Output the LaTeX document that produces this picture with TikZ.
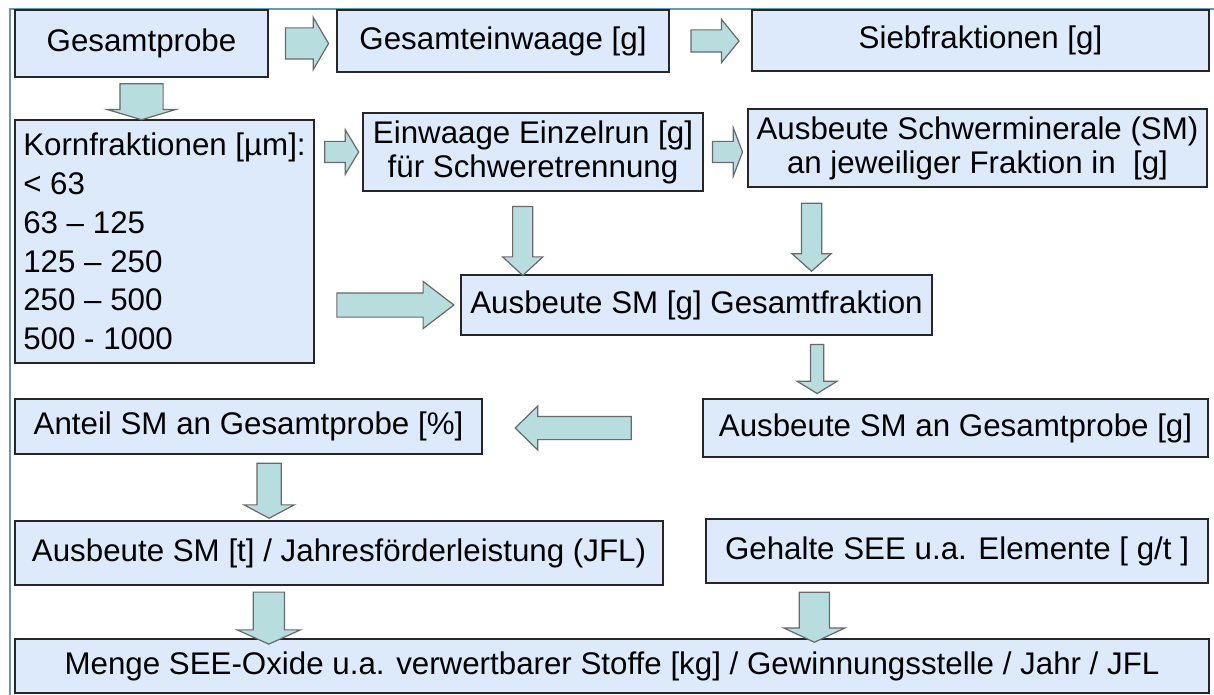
\documentclass[tikz,border=0pt]{standalone}
\usepackage{fontspec}
\setmainfont{Liberation Sans}
\usetikzlibrary{shapes.arrows, calc}

\definecolor{boxfill}{RGB}{220,234,251}
\definecolor{arrowfill}{RGB}{183,221,222}
\definecolor{arrowline}{RGB}{105,105,105}
\definecolor{frameline}{RGB}{110,150,172}

\begin{document}
\begin{tikzpicture}[
        x=1pt, y=-1pt,
        box/.style={rectangle, draw=black!85, line width=2pt, fill=boxfill, align=center,
            inner sep=0pt, font=\fontsize{31.3}{34}\selectfont},
        fatarrow/.style n args={4}{single arrow, draw=arrowline, fill=arrowfill, line width=1.2pt,
            inner xsep=0pt, inner ysep=#2/2*1pt, minimum height=#1pt, minimum width=#3pt,
            single arrow head extend={(#3-#2)/2*1pt}, single arrow tip angle={2*atan(#3/2/#4)},
            sloped, allow upside down}
    ]
        \useasboundingbox (0,0) rectangle (1214,695);
        \draw[frameline, line width=1.5pt] (10,695) -- (10,9) -- (1214,9);

        % Nodes
        \node[box, minimum width=253pt, minimum height=67pt] (probe) at (141.5,43.5) {Gesamtprobe};
        \node[box, minimum width=332pt, minimum height=62pt] (weigh) at (503,41) {Gesamteinwaage [g]};
        \node[box, minimum width=457pt, minimum height=61pt] (sieve) at (980.5,40.5) {Siebfraktionen [g]};
        \node[box, minimum width=299pt, minimum height=243pt, align=left,
            font=\fontsize{31.3}{38.7}\selectfont] (grain) at (164.5,241.5)
            {Kornfraktionen [µm]:\\< 63\\63 – 125\\125 – 250\\250 – 500\\500 - 1000};
        \node[box, minimum width=340pt, minimum height=78pt] (single) at (533,152)
            {Einwaage Einzelrun [g]\\für Schweretrennung};
        \node[box, minimum width=459pt, minimum height=78pt] (yield) at (977.5,148)
            {Ausbeute Schwerminerale (SM)\\an jeweiliger Fraktion in~ [g]};
        \node[box, minimum width=471pt, minimum height=60pt] (total) at (696.5,305) {Ausbeute SM [g] Gesamtfraktion};
        \node[box, minimum width=467pt, minimum height=55pt] (share) at (248.5,426.5) {Anteil SM an Gesamtprobe [\%]};
        \node[box, minimum width=505pt, minimum height=58pt] (yieldprobe) at (955.5,428) {Ausbeute SM an Gesamtprobe [g]};
        \node[box, minimum width=648pt, minimum height=64pt] (annual) at (339,553)
            {Ausbeute SM [t] / Jahresförderleistung (JFL)};
        \node[box, minimum width=502pt, minimum height=64pt] (content) at (957,551)
            {Gehalte SEE u.a. Elemente [ g/t ]};
        \node[box, minimum width=1194pt, minimum height=54pt] (amount) at (612,666)
            {Menge SEE-Oxide u.a. verwertbarer Stoffe [kg] / Gewinnungsstelle / Jahr / JFL};

        % Anchor points for the down arrows
        \coordinate (c1) at ($(single.south west)!0.47!(single.south east)$);
        \coordinate (c2) at ($(yield.south west)!0.14!(yield.south east)$);
        \coordinate (c3) at ($(total.south west)!0.755!(total.south east)$);
        \coordinate (c4) at ($(share.south west)!0.544!(share.south east)$);
        \coordinate (c5) at ($(annual.south west)!0.392!(annual.south east)$);
        \coordinate (c6) at ($(content.south west)!0.217!(content.south east)$);

        % Arrows
        \path (probe.east) -- node[fatarrow={43}{30}{51}{15}] (a1) {} (probe.east -| weigh.west);
        \path (weigh.east) -- node[fatarrow={48}{21}{42}{17}] (a2) {} (weigh.east -| sieve.west);
        \path (probe.south) -- node[fatarrow={36}{42}{67}{10}] (a3) {} (probe.south |- grain.north);
        \path (grain.east |- single.west) -- node[fatarrow={34}{20}{43}{13}] (a4) {} (single.west);
        \path (single.east) -- node[fatarrow={30}{20}{47}{9}] (a5) {} (single.east -| yield.west);
        \path (c1) -- node[fatarrow={69}{19}{39}{18}, pos=0.54] (a6) {} (c1 |- total.north);
        \path (c2) -- node[fatarrow={68}{19}{38}{17}, pos=0.52] (a7) {} (c2 |- total.north);
        \path (grain.east |- total.west) -- node[fatarrow={117}{23}{46}{30}] (a8) {} (total.west);
        \path (c3) -- node[fatarrow={49}{12}{39}{12}] (a9) {} (c3 |- yieldprobe.north);
        \path (yieldprobe.west) -- node[fatarrow={116}{22}{43}{22}, pos=0.561] (a10) {} (yieldprobe.west -| share.east);
        \path (c4) -- node[fatarrow={55}{23}{49}{13}] (a11) {} (c4 |- annual.north);
        \path (c5) -- node[fatarrow={52}{30}{62}{14}, pos=0.55] (a12) {} (c5 |- amount.north);
        \path (c6) -- node[fatarrow={50}{29}{60}{14}, pos=0.55] (a13) {} (c6 |- amount.north);
    \end{tikzpicture}
\end{document}
